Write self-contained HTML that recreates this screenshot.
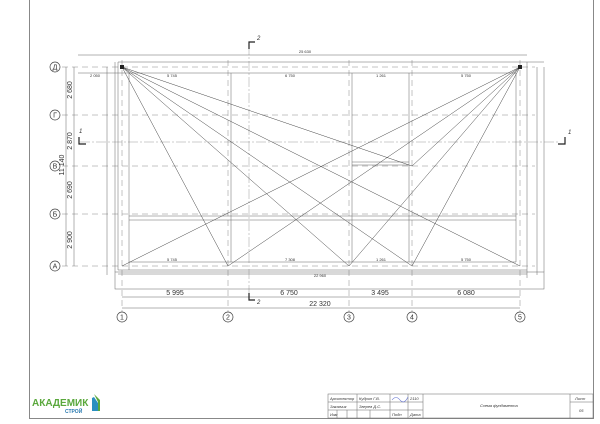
<!DOCTYPE html>
<html><head><meta charset="utf-8"><style>
html,body{margin:0;padding:0;background:#fff;}
svg{display:block;}
text{font-family:"Liberation Sans",sans-serif;fill:#333;}
</style></head><body>
<svg width="600" height="424" viewBox="0 0 600 424" xmlns="http://www.w3.org/2000/svg">
<rect width="600" height="424" fill="#fff"/>
<path d="M29.5 0 V418.5 H593.5 V0" fill="none" stroke="#888" stroke-width="1"/>

<g stroke="#666" stroke-width="0.5" fill="none">
<g stroke-dasharray="6,4" stroke="#888">
<line x1="62" y1="67" x2="535" y2="67"/>
<line x1="62" y1="115" x2="535" y2="115"/>
<line x1="62" y1="166" x2="535" y2="166"/>
<line x1="62" y1="214" x2="535" y2="214"/>
<line x1="62" y1="266" x2="535" y2="266"/>
<line x1="122" y1="60" x2="122" y2="312"/>
<line x1="228" y1="60" x2="228" y2="312"/>
<line x1="349" y1="60" x2="349" y2="312"/>
<line x1="412" y1="60" x2="412" y2="312"/>
<line x1="520" y1="60" x2="520" y2="312"/>
</g>
<g stroke-dasharray="10,2,2,2" stroke="#999">
<line x1="80" y1="142" x2="560" y2="142"/>
<line x1="249" y1="45" x2="249" y2="300"/>
</g>
<line x1="78" y1="55" x2="527" y2="55"/>
<line x1="122" y1="297" x2="520" y2="297"/>
<line x1="122" y1="308" x2="520" y2="308"/>
<line x1="66" y1="67" x2="66" y2="266"/>
<line x1="74" y1="67" x2="74" y2="266"/>
<line x1="107" y1="67" x2="107" y2="275"/>
<line x1="537" y1="67" x2="537" y2="275"/>
<line x1="118" y1="62" x2="544" y2="62"/>
<line x1="78" y1="73" x2="516" y2="73"/>
<line x1="129" y1="216" x2="516" y2="216"/>
<line x1="129" y1="220" x2="516" y2="220"/>
<line x1="352" y1="162" x2="409" y2="162"/>
<line x1="352" y1="165" x2="409" y2="165"/>
<line x1="118" y1="270" x2="527" y2="270"/>
<line x1="118" y1="274" x2="527" y2="274"/>
<rect x="115" y="272" width="429" height="17"/>
<line x1="544" y1="67" x2="544" y2="272"/>
<line x1="527" y1="62" x2="527" y2="278"/>
<line x1="115" y1="62" x2="115" y2="272"/>
<line x1="118" y1="62" x2="118" y2="270"/>
<line x1="129" y1="73" x2="129" y2="270"/>
<line x1="231" y1="73" x2="231" y2="262"/>
<line x1="352" y1="73" x2="352" y2="262"/>
<line x1="409" y1="73" x2="409" y2="262"/>
<line x1="516" y1="73" x2="516" y2="262"/>
<line x1="129" y1="262" x2="516" y2="262"/>
<g stroke="#444" stroke-width="0.5">
<line x1="122" y1="67" x2="228" y2="266"/>
<line x1="122" y1="67" x2="412" y2="166"/>
<line x1="122" y1="67" x2="520" y2="266"/>
<line x1="122" y1="67" x2="412" y2="266"/>
<line x1="122" y1="67" x2="349" y2="266"/>
<line x1="520" y1="67" x2="122" y2="266"/>
<line x1="520" y1="67" x2="228" y2="266"/>
<line x1="520" y1="67" x2="349" y2="266"/>
<line x1="520" y1="67" x2="412" y2="266"/>
<line x1="520" y1="67" x2="412" y2="166"/>
</g>
</g>
<rect x="120" y="65" width="4" height="4" fill="#222"/>
<rect x="518" y="65" width="4" height="4" fill="#222"/>
<g stroke="#444" stroke-width="0.7" fill="#fff">
<circle cx="55" cy="67" r="5"/><circle cx="55" cy="115" r="5"/><circle cx="55" cy="166" r="5"/><circle cx="55" cy="214" r="5"/><circle cx="55" cy="266" r="5"/>
<circle cx="122" cy="317" r="5"/><circle cx="228" cy="317" r="5"/><circle cx="349" cy="317" r="5"/><circle cx="412" cy="317" r="5"/><circle cx="520" cy="317" r="5"/>
</g>
<g font-size="7" text-anchor="middle">
<text x="55" y="69.5">Д</text><text x="55" y="117.5">Г</text><text x="55" y="168.5">В</text><text x="55" y="216.5">Б</text><text x="55" y="268.5">А</text>
<text x="122" y="319.5">1</text><text x="228" y="319.5">2</text><text x="349" y="319.5">3</text><text x="412" y="319.5">4</text><text x="520" y="319.5">5</text>
<text x="175" y="295">5 995</text><text x="289" y="295">6 750</text><text x="380" y="295">3 495</text><text x="466" y="295">6 080</text>
<text x="320" y="306">22 320</text>
<text x="305" y="53" font-size="4">25 630</text>
</g>
<g font-size="7" text-anchor="middle">
<text transform="translate(72,90) rotate(-90)">2 680</text>
<text transform="translate(72,141) rotate(-90)">2 870</text>
<text transform="translate(72,190) rotate(-90)">2 690</text>
<text transform="translate(72,240) rotate(-90)">2 900</text>
<text transform="translate(64,165) rotate(-90)">11 140</text>
</g>
<g font-size="4" fill="#555" text-anchor="middle">
<text x="172" y="77">5 745</text><text x="290" y="77">6 750</text><text x="381" y="77">1 261</text><text x="466" y="77">5 750</text>
<text x="172" y="261">5 745</text><text x="290" y="261">7 308</text><text x="381" y="261">1 261</text><text x="466" y="261">5 750</text>
<text x="95" y="77">2 050</text><text x="320" y="277">22 960</text>
</g>
<g stroke="#222" stroke-width="1.2" fill="none">
<path d="M249 49 V42 H255"/><path d="M249 293 V300 H255"/><path d="M79 137 V144 H86"/><path d="M565 137 V144 H558"/>
</g>
<g font-size="6" font-style="italic"><text x="257" y="40">2</text><text x="257" y="304">2</text><text x="79" y="133">1</text><text x="568" y="134">1</text></g>
<text x="32" y="406" font-size="10" font-weight="bold" style="fill:#5aa83c">АКАДЕМИК</text>
<text x="65" y="413" font-size="5" font-weight="bold" style="fill:#2a7ab0">СТРОЙ</text>
<path d="M88 400 L92 398 L92 411 L98 411 L98 403 L94 397 Z" fill="#2a8fc0"/>
<path d="M94 394 L100 400 L100 411 L98 411 L98 402 Z" fill="#5aa83c"/>
<g stroke="#666" stroke-width="0.5" fill="none">
<rect x="328" y="394" width="265" height="24"/>
<line x1="328" y1="402" x2="423" y2="402"/><line x1="328" y1="410" x2="423" y2="410"/>
<line x1="570" y1="402" x2="593" y2="402"/>
<line x1="357" y1="394" x2="357" y2="418"/><line x1="390" y1="394" x2="390" y2="418"/>
<line x1="408" y1="394" x2="408" y2="418"/><line x1="423" y1="394" x2="423" y2="418"/><line x1="570" y1="394" x2="570" y2="418"/>
<line x1="337" y1="410" x2="337" y2="418"/><line x1="347" y1="410" x2="347" y2="418"/><line x1="370" y1="410" x2="370" y2="418"/>
</g>
<g font-size="4" font-style="italic" fill="#444">
<text x="330" y="400">Архитектор</text><text x="359" y="400">Кудрин Г.В.</text><text x="410" y="400">2110</text>
<text x="330" y="408">Заказчик</text><text x="359" y="408">Зверев Д.С.</text>
<text x="330" y="416">Изм</text><text x="392" y="416">Подп</text><text x="410" y="416">Дата</text>
<text x="480" y="407">Схема фундамента</text><text x="575" y="400">Лист</text><text x="579" y="412">05</text>
</g>
<path d="M392 400 q4 -5 8 0 t8 -3" stroke="#6070d0" stroke-width="0.6" fill="none"/>
</svg>
</body></html>
